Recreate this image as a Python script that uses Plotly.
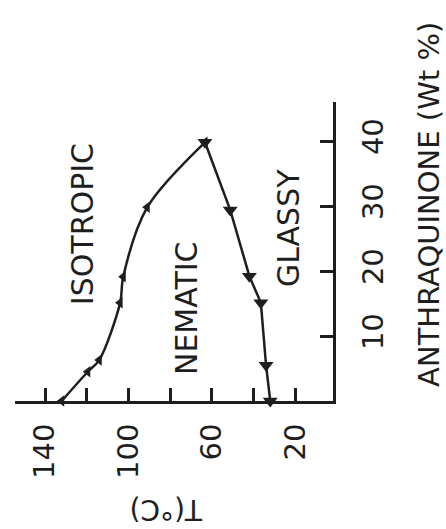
import plotly.graph_objects as go

# Isotropic -> nematic transition (clearing) curve
iso_wt = [0, 4.5, 6.3, 15.1, 19.1, 29.8, 39.8]
iso_T = [132, 119.5, 114, 104, 102.5, 91, 63.3]

# Nematic -> glassy transition curve
gl_wt = [39.8, 29.4, 19.2, 15.1, 5.5, 0]
gl_T = [63.3, 51.2, 42, 36.5, 34, 32]

T_ticks = [140, 120, 100, 80, 60, 40, 20]
T_ticktext = ["140", "", "100", "", "60", "", "20"]
wt_ticks = [10, 20, 30, 40]
wt_ticktext = ["10", "20", "30", "40"]

ink = "#1e1e1e"
font = "DejaVu Sans"

fig = go.Figure()
fig.add_trace(go.Scatter(
    x=iso_T, y=iso_wt, mode="lines+markers",
    line=dict(color=ink, width=2.5, shape="spline", smoothing=0.9),
    marker=dict(symbol="triangle-left", size=10, color=ink),
    cliponaxis=False, showlegend=False))
fig.add_trace(go.Scatter(
    x=gl_T, y=gl_wt, mode="lines+markers",
    line=dict(color=ink, width=2.5),
    marker=dict(symbol="triangle-down", size=13, color=ink),
    cliponaxis=False, showlegend=False))

fig.update_layout(
    width=446, height=529,
    margin=dict(l=15, r=113, t=102, b=128),
    paper_bgcolor="white", plot_bgcolor="white",
    font=dict(family=font, color=ink),
    xaxis=dict(range=[154.4, 1.9], showgrid=False, zeroline=False,
               showline=True, linecolor=ink, linewidth=3,
               ticks="inside", ticklen=13, tickwidth=2.5, tickcolor=ink,
               tickvals=T_ticks, ticktext=T_ticktext, tickangle=-90,
               tickfont=dict(size=29, family=font, color=ink),
               ticklabelstandoff=8),
    yaxis=dict(range=[0, 46], side="right", showgrid=False, zeroline=False,
               showline=True, linecolor=ink, linewidth=3,
               ticks="inside", ticklen=13, tickwidth=2.5, tickcolor=ink,
               tickvals=wt_ticks, ticktext=wt_ticktext, tickangle=-90,
               tickfont=dict(size=29, family=font, color=ink),
               ticklabelstandoff=12),
)

ann = [
    dict(text="ANTHRAQUINONE (Wt %)", x=1.302, y=0.656, xref="paper", yref="paper",
         textangle=-90, font=dict(size=29)),
    dict(text="T(°C)", x=0.475, y=-0.361, xref="paper", yref="paper",
         textangle=180, font=dict(size=28)),
    dict(text="ISOTROPIC", x=122.3, y=27.2, xref="x", yref="y",
         textangle=-90, font=dict(size=30)),
    dict(text="NEMATIC", x=72.4, y=14.3, xref="x", yref="y",
         textangle=-90, font=dict(size=30)),
    dict(text="GLASSY", x=23.5, y=26.6, xref="x", yref="y",
         textangle=-90, font=dict(size=30)),
]
for a in ann:
    a.update(showarrow=False, xanchor="center", yanchor="middle")
    a["font"].update(family=font, color=ink)
    fig.add_annotation(**a)

fig.write_html("out.html")
